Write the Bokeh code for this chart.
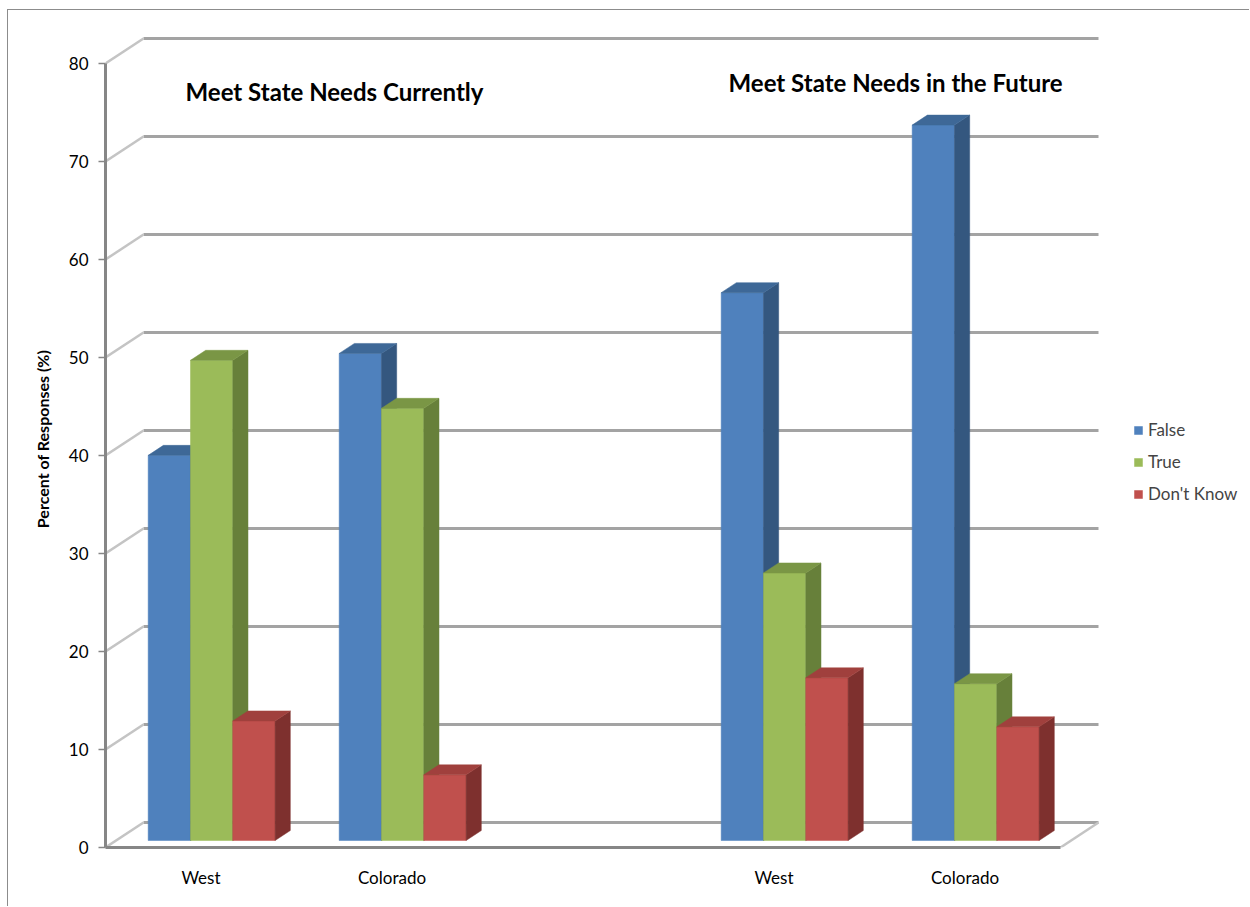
from bokeh.plotting import figure
from bokeh.models import Range1d, FixedTicker, Label, Legend, LegendItem
from bokeh.embed import file_html
from bokeh.resources import INLINE

# ---------------- data ----------------
groups = ["West", "Colorado", "West", "Colorado"]
panel_titles = ["Meet State Needs Currently", "Meet State Needs in the Future"]
series_names = ["False", "True", "Don't Know"]
false_vals = [39.3, 49.7, 55.9, 73.0]
true_vals = [49.0, 44.1, 27.3, 16.0]
dk_vals = [12.2, 6.7, 16.6, 11.6]
y_ticks = [0, 10, 20, 30, 40, 50, 60, 70, 80]
y_label = "Percent of Responses (%)"

# ---------------- styling ----------------
FONT = "Lato"
front_colors = ["#4F81BD", "#9BBB59", "#C0504D"]
side_colors = ["#34577F", "#67803A", "#7E302E"]
top_colors = ["#3E6897", "#7A9645", "#A0403D"]

# geometry (slot = one category width, values in %)
PX_SLOT = 191.0
PX_VAL = 9.8
DX = 38.0 / PX_SLOT      # depth offset of back wall, in slot units
DY = 25.0 / PX_VAL       # depth offset of back wall, in value units
D0 = 0.28                # depth of bar fronts
BD = 0.40                # bar depth (fraction of floor depth)
BW = 0.2215              # bar width in slot units
GAP = (1 - 3 * BW) / 2
N_SLOTS = 5
slots = [i + (1 if i >= 2 else 0) for i in range(len(groups))]

W, H = 1242, 897
ML, MT, MB = 97, 20, 60
frame_w = W - ML
frame_h = H - MT - MB

p = figure(width=W, height=H, output_backend="svg", toolbar_location=None,
           x_range=Range1d(0, frame_w / PX_SLOT), y_range=Range1d(0, frame_h / PX_VAL),
           min_border_left=ML, min_border_top=MT, min_border_bottom=MB, min_border_right=0)
p.outline_line_color = None
p.xgrid.visible = False
p.ygrid.visible = False
p.background_fill_color = "white"
p.border_fill_color = "white"
p.styles = {"margin-left": "7px", "margin-top": "9px",
            "border-left": "1px solid #8c8c8c", "border-top": "1px solid #8c8c8c"}

# ---------------- walls / gridlines ----------------
grid_col = "#a3a3a3"
diag_col = "#c4c4c4"
for v in y_ticks:
    p.line([DX, N_SLOTS + DX], [v + DY, v + DY], line_color=grid_col, line_width=3)
    p.line([0, DX], [v, v + DY], line_color=diag_col, line_width=2.5)
p.line([N_SLOTS, N_SLOTS + DX], [0, DY], line_color=diag_col, line_width=2.5)

# ---------------- bars ----------------
all_vals = [false_vals, true_vals, dk_vals]
legend_items = []
for si, vals in enumerate(all_vals):
    lefts, rights, tops, bottoms = [], [], [], []
    side_xs, side_ys, top_xs, top_ys = [], [], [], []
    for gi, v in enumerate(vals):
        x0 = slots[gi] + GAP + si * BW + D0 * DX
        x1 = x0 + BW
        y0 = D0 * DY
        y1 = v + D0 * DY
        ddx, ddy = BD * DX, BD * DY
        lefts.append(x0); rights.append(x1); bottoms.append(y0); tops.append(y1)
        side_xs.append([x1, x1 + ddx, x1 + ddx, x1])
        side_ys.append([y0, y0 + ddy, y1 + ddy, y1])
        top_xs.append([x0, x1, x1 + ddx, x0 + ddx])
        top_ys.append([y1, y1, y1 + ddy, y1 + ddy])
    r = p.quad(left=lefts, right=rights, bottom=bottoms, top=tops,
               fill_color=front_colors[si], line_color=front_colors[si], line_width=0.5)
    p.patches(side_xs, side_ys, fill_color=side_colors[si], line_color=side_colors[si], line_width=0.5)
    p.patches(top_xs, top_ys, fill_color=top_colors[si], line_color=top_colors[si], line_width=0.5)
    legend_items.append(LegendItem(label=series_names[si], renderers=[r]))

# ---------------- axes ----------------
ax_col = "#868686"
p.yaxis.ticker = FixedTicker(ticks=y_ticks)
p.yaxis.bounds = (0, 80)
p.yaxis.axis_line_color = ax_col
p.yaxis.axis_line_width = 3
p.yaxis.major_tick_line_color = ax_col
p.yaxis.major_tick_line_width = 1.5
p.yaxis.major_tick_out = 7
p.yaxis.major_tick_in = 0
p.yaxis.minor_tick_line_color = None
p.yaxis.major_label_text_font = FONT
p.yaxis.major_label_text_font_size = "17px"
p.yaxis.major_label_text_color = "black"
p.yaxis.major_label_standoff = 10
p.yaxis.axis_label = y_label
p.yaxis.axis_label_text_font = FONT
p.yaxis.axis_label_text_font_size = "16px"
p.yaxis.axis_label_text_font_style = "bold"
p.yaxis.axis_label_text_color = "black"
p.yaxis.axis_label_standoff = 14

p.xaxis.ticker = FixedTicker(ticks=[s + 0.5 for s in slots])
p.xaxis.major_label_overrides = {s + 0.5: g for s, g in zip(slots, groups)}
p.xaxis.bounds = (0, N_SLOTS)
p.xaxis.axis_line_color = ax_col
p.xaxis.axis_line_width = 3
p.xaxis.major_tick_line_color = None
p.xaxis.minor_tick_line_color = None
p.xaxis.major_tick_out = 0
p.xaxis.major_label_text_font = FONT
p.xaxis.major_label_text_font_size = "17px"
p.xaxis.major_label_text_color = "black"
p.xaxis.major_label_standoff = 19

# ---------------- panel titles ----------------
p.add_layout(Label(x=0.419, y=77.1, text=panel_titles[0], text_font=FONT, text_font_size="24px",
                   text_font_style="bold", text_baseline="middle", text_color="black"))
p.add_layout(Label(x=3.262, y=78.06, text=panel_titles[1], text_font=FONT, text_font_size="24px",
                   text_font_style="bold", text_baseline="middle", text_color="black"))

# ---------------- legend ----------------
legend = Legend(items=legend_items, location=(1028, 343), orientation="vertical",
                glyph_width=10, glyph_height=10, label_standoff=5, spacing=11,
                padding=0, margin=0, border_line_color=None, background_fill_alpha=0,
                label_text_font=FONT, label_text_font_size="17px", label_height=20)
p.add_layout(legend)

open("out.html", "w").write(file_html(p, INLINE))
